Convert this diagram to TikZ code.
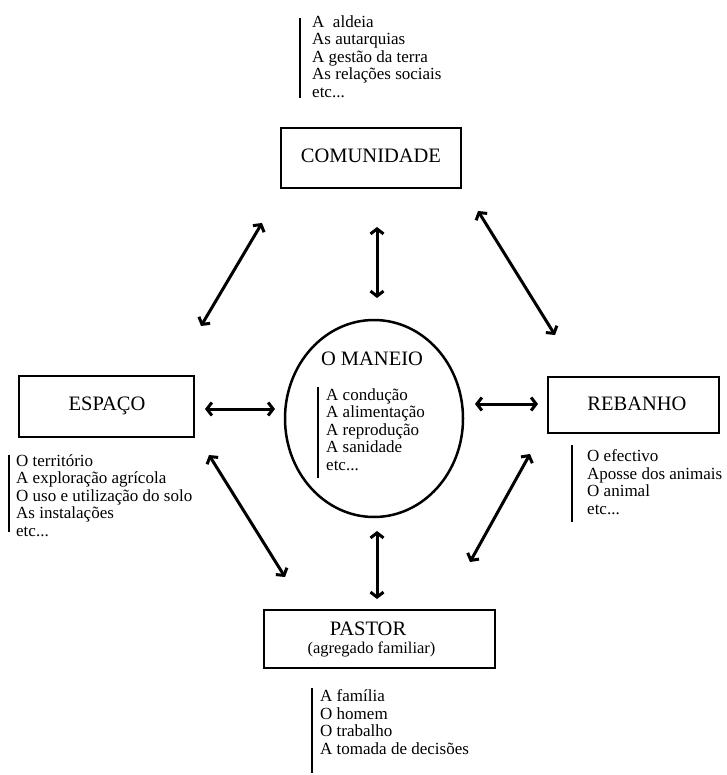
\documentclass[tikz,border=0pt]{standalone}
\usepackage{fontspec}
\setmainfont{Liberation Serif}
\usetikzlibrary{arrows.meta,shapes.geometric}
\begin{document}
\begin{tikzpicture}[x=1pt,y=-1pt,
  boxnode/.style={draw,line width=2.8pt,inner sep=0pt},
  titletext/.style={anchor=base,inner sep=0pt,font=\fontsize{20.5}{24}\selectfont},
  subtext/.style={anchor=base,inner sep=0pt,font=\fontsize{16.5}{20}\selectfont},
  listtext/.style={anchor=north west,inner sep=0pt,align=left,font=\fontsize{17}{17.5}\selectfont},
  listbar/.style={line width=2.8pt},
  link/.style={line width=3pt,{Straight Barb[length=5pt,width=13pt]}-{Straight Barb[length=5pt,width=13pt]}}]
\useasboundingbox (0,0) rectangle (726,775);

% boxes
\node[boxnode,minimum width=180pt,minimum height=60pt] (com) at (371,158) {};
\node[titletext] (comt) at (371,163) {COMUNIDADE};

\node[boxnode,minimum width=175pt,minimum height=61pt] (esp) at (106.5,406.5) {};
\node[titletext] (espt) at (107,410) {ESPAÇO};

\node[boxnode,minimum width=171pt,minimum height=56pt] (reb) at (633.5,405) {};
\node[titletext] (rebt) at (637,410) {REBANHO};

\node[boxnode,minimum width=231pt,minimum height=58pt] (pas) at (379.5,639) {};
\node[titletext] (past) at (368,635.5) {PASTOR};
\node[subtext] (pass) at (371.5,653) {(agregado familiar)};

\node[draw,ellipse,line width=2.5pt,minimum width=178pt,minimum height=197pt,inner sep=0pt] (man) at (374,418.5) {};
\node[titletext] (mant) at (372,365) {O MANEIO};

% lists
\node[listtext] (lcom) at (312,15.4) {A\ \ aldeia\\As autarquias\\A gestão da terra\\As relações sociais\\etc...};
\draw[listbar] (300,18) coordinate (bc1) -- (300,98) coordinate (bc2);

\node[listtext] (lesp) at (16,454.4) {O território\\A exploração agrícola\\O uso e utilização do solo\\As instalações\\etc...};
\draw[listbar] (9,455) coordinate (be1) -- (9,532) coordinate (be2);

\node[listtext] (lman) at (326,388.4) {A condução\\A alimentação\\A reprodução\\A sanidade\\etc...};
\draw[listbar] (318,387) coordinate (bm1) -- (318,478) coordinate (bm2);

\node[listtext] (lreb) at (587,449.4) {O efectivo\\Aposse dos animais\\O animal\\etc...};
\draw[listbar] (572,445) coordinate (br1) -- (572,522) coordinate (br2);

\node[listtext] (lpas) at (320,689.4) {A família\\O homem\\O trabalho\\A tomada de decisões};
\draw[listbar] (312,688) coordinate (bp1) -- (312,773) coordinate (bp2);

% connector ends
\coordinate (cm1) at (377,227);   \coordinate (cm2) at (377,298);
\coordinate (mp1) at (377,531);   \coordinate (mp2) at (377,599);
\coordinate (em1) at (205,409);   \coordinate (em2) at (275,409);
\coordinate (mr1) at (475,404);   \coordinate (mr2) at (538,404);
\coordinate (ce1) at (262,223);   \coordinate (ce2) at (201,326);
\coordinate (cr1) at (478,211);   \coordinate (cr2) at (555,335);
\coordinate (ep1) at (209,455);   \coordinate (ep2) at (285,577);
\coordinate (rp1) at (530,454);   \coordinate (rp2) at (470,562);

\draw[link] (cm1) -- (cm2);
\draw[link] (mp1) -- (mp2);
\draw[link] (em1) -- (em2);
\draw[link] (mr1) -- (mr2);
\draw[link] (ce1) -- (ce2);
\draw[link] (cr1) -- (cr2);
\draw[link] (ep1) -- (ep2);
\draw[link] (rp1) -- (rp2);
\end{tikzpicture}
\end{document}
